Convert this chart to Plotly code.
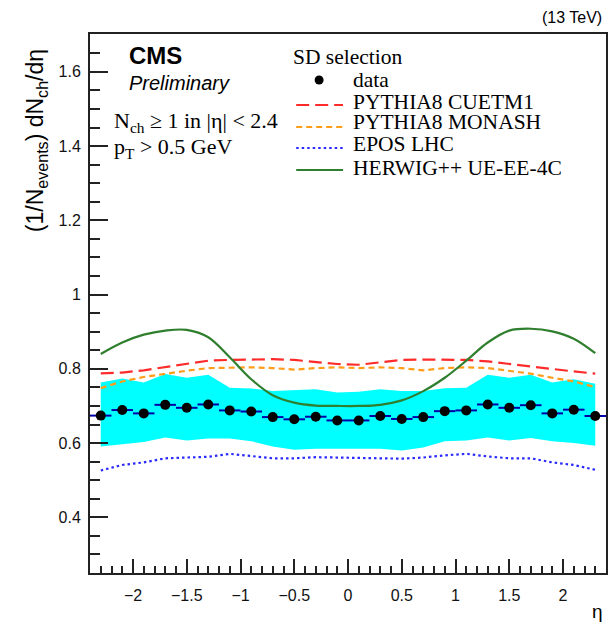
import plotly.graph_objects as go

# Pseudorapidity bin centres (bin width 0.2)
eta = [-2.3, -2.1, -1.9, -1.7, -1.5, -1.3, -1.1, -0.9, -0.7, -0.5, -0.3, -0.1,
       0.1, 0.3, 0.5, 0.7, 0.9, 1.1, 1.3, 1.5, 1.7, 1.9, 2.1, 2.3]
eta_half_width = [0.1] * 24

# Measured dN/deta (SD selection)
data = [0.674, 0.689, 0.680, 0.703, 0.695, 0.704, 0.688, 0.685, 0.670, 0.664, 0.671, 0.661,
        0.661, 0.673, 0.665, 0.670, 0.686, 0.688, 0.704, 0.695, 0.702, 0.680, 0.690, 0.673]

# Systematic uncertainty band edges
band_high = [0.763, 0.774, 0.763, 0.786, 0.776, 0.784, 0.749, 0.747, 0.740, 0.743, 0.745, 0.736,
             0.738, 0.745, 0.740, 0.740, 0.748, 0.749, 0.784, 0.776, 0.784, 0.763, 0.772, 0.760]
band_low = [0.591, 0.597, 0.603, 0.615, 0.607, 0.612, 0.612, 0.605, 0.591, 0.582, 0.585, 0.585,
            0.585, 0.585, 0.580, 0.588, 0.605, 0.607, 0.615, 0.607, 0.614, 0.605, 0.600, 0.593]

# Generator predictions
cuetm1 = [0.788, 0.790, 0.796, 0.805, 0.814, 0.822, 0.824, 0.825, 0.826, 0.824, 0.819, 0.813,
          0.811, 0.817, 0.824, 0.825, 0.825, 0.824, 0.820, 0.813, 0.805, 0.799, 0.793, 0.787]
monash = [0.748, 0.766, 0.778, 0.787, 0.795, 0.802, 0.804, 0.804, 0.802, 0.798, 0.802, 0.804,
          0.802, 0.804, 0.802, 0.796, 0.802, 0.804, 0.802, 0.795, 0.787, 0.776, 0.766, 0.751]
epos = [0.526, 0.541, 0.548, 0.559, 0.561, 0.563, 0.571, 0.564, 0.559, 0.559, 0.562, 0.561,
        0.561, 0.559, 0.558, 0.561, 0.567, 0.571, 0.564, 0.559, 0.559, 0.548, 0.541, 0.528]
herwig = [0.840, 0.871, 0.892, 0.903, 0.905, 0.885, 0.831, 0.772, 0.729, 0.709, 0.701, 0.700,
          0.700, 0.703, 0.715, 0.740, 0.776, 0.822, 0.871, 0.903, 0.908, 0.901, 0.881, 0.842]

model_names = ["PYTHIA8 CUETM1", "PYTHIA8 MONASH", "EPOS LHC", "HERWIG++ UE-EE-4C"]
model_values = [cuetm1, monash, epos, herwig]
model_colors = ["#ff2b2b", "#ff9d1a", "#2a2aff", "#2f7f2f"]
model_dash = ["13px,6px", "6px,4px", "2.5px,3px", "solid"]
model_shape = ["linear", "linear", "linear", "spline"]

W, H = 611, 630
ML, MR, MT, MB = 90, 3, 34, 57
PW, PH = W - ML - MR, H - MT - MB


def px(xp):
    return (xp - ML) / PW


def py(yp):
    return (H - MB - yp) / PH


fig = go.Figure()

# Systematic band
fig.add_trace(go.Scatter(x=eta, y=band_high, mode="lines", line=dict(width=0),
                         showlegend=False, hoverinfo="skip"))
fig.add_trace(go.Scatter(x=eta, y=band_low, mode="lines", line=dict(width=0),
                         fill="tonexty", fillcolor="#00ffff", showlegend=False,
                         hoverinfo="skip"))

# Model curves
for name, vals, col, dash, shape in zip(model_names, model_values, model_colors,
                                        model_dash, model_shape):
    fig.add_trace(go.Scatter(x=eta, y=vals, mode="lines", name=name,
                             line=dict(color=col, width=2.2, dash=dash, shape=shape),
                             showlegend=False))

# Data points with bin-width bars
fig.add_trace(go.Scatter(x=eta, y=data, mode="markers", name="data",
                         marker=dict(color="black", size=10),
                         error_x=dict(type="data", array=eta_half_width, width=0,
                                      thickness=2, color="#0000a8"),
                         showlegend=False))

ann = []
serif = "Liberation Serif"
sans = "Liberation Sans"

# CMS labels
ann.append(dict(x=px(127), y=py(55), text="<b>CMS</b>", font=dict(family=sans, size=24, color="black")))
ann.append(dict(x=px(127), y=py(83), text="<i>Preliminary</i>", font=dict(family=sans, size=20, color="black")))
ann.append(dict(x=px(112), y=py(122), text="N<sub>ch</sub> \u2265 1 in |\u03b7| < 2.4",
                font=dict(family=serif, size=22, color="black")))
ann.append(dict(x=px(112), y=py(148), text="p<sub>T</sub> > 0.5 GeV",
                font=dict(family=serif, size=22, color="black")))

# Legend
ann.append(dict(x=px(292), y=py(57), text="SD selection", font=dict(family=serif, size=21.5, color="black")))
leg_text_y = [80, 102, 122, 144, 168]
leg_line_y = [105, 127, 148, 170]
leg_labels = ["data"] + model_names
for lbl, ty in zip(leg_labels, leg_text_y):
    ann.append(dict(x=px(352), y=py(ty), text=lbl, font=dict(family=serif, size=21.5, color="black")))

shapes = []
for col, dash, ly in zip(model_colors, model_dash, leg_line_y):
    shapes.append(dict(type="line", xref="paper", yref="paper", x0=px(297), x1=px(344),
                       y0=py(ly), y1=py(ly), line=dict(color=col, width=2.2, dash=dash)))
shapes.append(dict(type="circle", xref="paper", yref="paper",
                   x0=px(315.5), x1=px(324.5), y0=py(84.5), y1=py(75.5),
                   fillcolor="black", line=dict(color="black", width=0)))

for a in ann:
    a.update(xref="paper", yref="paper", xanchor="left", yanchor="middle", showarrow=False)

# Axis titles and energy label
ann.append(dict(x=px(36), y=py(141), xref="paper", yref="paper", textangle=-90,
                text="(1/N<sub>events</sub>) dN<sub>ch</sub>/d\u03b7", showarrow=False,
                xanchor="center", yanchor="middle", font=dict(family=sans, size=23, color="black")))
ann.append(dict(x=px(607), y=py(611), xref="paper", yref="paper", text="\u03b7", showarrow=False,
                xanchor="right", yanchor="middle", font=dict(family=sans, size=19, color="black")))
ann.append(dict(x=px(606), y=py(18), xref="paper", yref="paper", text="(13 TeV)", showarrow=False,
                xanchor="right", yanchor="middle", font=dict(family=sans, size=16, color="black")))

fig.update_layout(
    width=W, height=H,
    margin=dict(l=ML, r=MR, t=MT, b=MB),
    paper_bgcolor="white", plot_bgcolor="white",
    annotations=ann, shapes=shapes, showlegend=False,
    xaxis=dict(range=[-2.4, 2.4], tickmode="linear", tick0=0, dtick=0.5,
               ticks="inside", ticklen=14, tickwidth=1.5, tickcolor="#222",
               minor=dict(ticks="inside", ticklen=7, tickwidth=1.5, tickcolor="#222", dtick=0.1),
               showline=True, mirror=True, linecolor="#222", linewidth=2,
               showgrid=False, zeroline=False,
               tickfont=dict(family=sans, size=16, color="#111"), ticklabelstandoff=7),
    yaxis=dict(range=[0.25, 1.702], tickmode="array",
               tickvals=[0.4, 0.6, 0.8, 1.0, 1.2, 1.4, 1.6],
               ticktext=["0.4", "0.6", "0.8", "1", "1.2", "1.4", "1.6"],
               ticks="inside", ticklen=18, tickwidth=2, tickcolor="#222",
               minor=dict(ticks="inside", ticklen=10, tickwidth=2, tickcolor="#222",
                          tickmode="linear", tick0=0, dtick=0.05),
               showline=True, mirror=True, linecolor="#222", linewidth=2,
               showgrid=False, zeroline=False,
               tickfont=dict(family=sans, size=16, color="#111"), ticklabelstandoff=4),
)

fig.write_html("out.html")
